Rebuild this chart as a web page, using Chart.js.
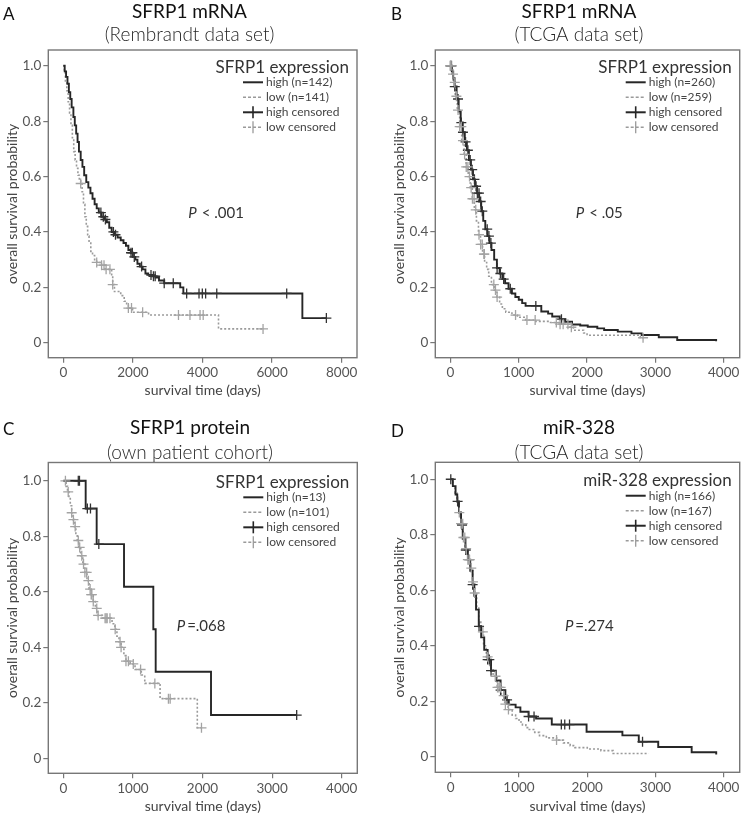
<!DOCTYPE html>
<html>
<head>
<meta charset="utf-8">
<script src="https://cdn.jsdelivr.net/npm/chart.js@4.4.1/dist/chart.umd.min.js"></script>
<style>
    html, body { margin: 0; padding: 0; background: #ffffff; }
    #wrap { position: relative; width: 746px; height: 815px; overflow: hidden; }
    .panel { position: absolute; }
</style>
</head>
<body>
<div id="wrap">
    <div class="panel" style="left:0;top:0"><canvas id="cA" width="373" height="408"></canvas></div>
    <div class="panel" style="left:373px;top:0"><canvas id="cB" width="373" height="408"></canvas></div>
    <div class="panel" style="left:0;top:408px"><canvas id="cC" width="373" height="407"></canvas></div>
    <div class="panel" style="left:373px;top:408px"><canvas id="cD" width="373" height="407"></canvas></div>
</div>
<script>
/*
 *  Kaplan-Meier panels A-D
 *  steps are [time (days), survival after that time]
 */

var Y_TICKS   = [0, 0.2, 0.4, 0.6, 0.8, 1.0];
var X_TICKS_A = [0, 2000, 4000, 6000, 8000];
var X_TICKS   = [0, 1000, 2000, 3000, 4000];

/* ---- A: SFRP1 mRNA, Rembrandt ---- */
var A_HIGH = [[0,1.0],[40,0.98],[80,0.96],[120,0.935],[160,0.905],[200,0.88],[240,0.85],[290,0.815],[330,0.785],[370,0.755],
    [410,0.725],[450,0.69],[500,0.66],[550,0.635],[600,0.605],[660,0.58],[720,0.56],[780,0.54],[840,0.52],[900,0.50],
    [960,0.485],[1020,0.47],[1100,0.455],[1180,0.445],[1250,0.435],[1320,0.415],[1390,0.40],[1480,0.39],[1560,0.38],
    [1650,0.37],[1730,0.36],[1800,0.35],[1870,0.335],[1940,0.325],[2000,0.31],[2070,0.30],[2130,0.285],[2200,0.275],
    [2280,0.265],[2360,0.25],[2440,0.245],[2550,0.24],[2650,0.235],[2750,0.225],[2900,0.215],[3360,0.20],[3450,0.178],
    [6870,0.089],[7560,0.089]];
var A_HIGH_CENS = [1080,1150,1210,1440,1500,1945,1985,2040,2250,2520,2590,2640,2900,3160,3545,3900,3995,4090,4410,6420,7560];
var A_LOW = [[0,1.0],[30,0.975],[60,0.945],[100,0.91],[140,0.87],[180,0.83],[220,0.785],[260,0.74],[300,0.69],[340,0.66],
    [380,0.63],[420,0.605],[460,0.585],[500,0.575],[540,0.545],[580,0.50],[620,0.455],[660,0.42],[700,0.385],[740,0.36],
    [790,0.33],[840,0.315],[900,0.30],[960,0.29],[1100,0.28],[1200,0.265],[1390,0.24],[1420,0.21],[1470,0.185],[1650,0.17],
    [1750,0.15],[1820,0.135],[1870,0.125],[1990,0.11],[2450,0.10],[4460,0.05],[5740,0.05]];
var A_LOW_CENS = [500,960,1100,1170,1230,1340,1420,1870,1960,2280,3310,3640,3930,4020,5740];

/* ---- B: SFRP1 mRNA, TCGA ---- */
var B_HIGH = [[0,1.0],[20,0.98],[40,0.955],[60,0.925],[90,0.88],[120,0.835],[150,0.795],[180,0.76],[210,0.725],[240,0.695],
    [270,0.66],[300,0.625],[330,0.59],[360,0.565],[390,0.54],[420,0.51],[450,0.475],[480,0.44],[510,0.41],[540,0.385],
    [570,0.36],[600,0.335],[640,0.30],[680,0.27],[720,0.25],[760,0.23],[800,0.215],[850,0.195],[900,0.178],[950,0.165],
    [1000,0.155],[1050,0.143],[1100,0.133],[1330,0.113],[1430,0.105],[1490,0.095],[1600,0.085],[1680,0.076],[1780,0.066],
    [1900,0.062],[2010,0.058],[2150,0.052],[2250,0.046],[2450,0.04],[2650,0.034],[2800,0.028],[3050,0.02],[3320,0.01],
    [3890,0.005]];
var B_HIGH_CENS = [0,15,63,111,159,183,221,255,289,318,351,375,394,418,442,466,538,563,592,683,731,779,876,1250,1625];
var B_LOW = [[0,1.0],[20,0.97],[40,0.94],[70,0.89],[100,0.84],[135,0.78],[165,0.73],[200,0.68],[230,0.635],[260,0.60],
    [290,0.56],[320,0.52],[350,0.48],[380,0.44],[410,0.39],[440,0.355],[470,0.32],[500,0.29],[530,0.265],[560,0.24],
    [600,0.21],[640,0.19],[680,0.165],[720,0.14],[760,0.123],[810,0.11],[900,0.10],[980,0.092],[1100,0.082],[1250,0.077],
    [1450,0.073],[1600,0.067],[1750,0.056],[1800,0.045],[1950,0.035],[2000,0.027],[2780,0.018],[2820,0.018]];
var B_LOW_CENS = [0,10,38,63,87,111,135,159,183,207,231,255,279,303,322,346,370,418,442,466,490,496,635,659,683,953,
    1120,1240,1550,1605,1650,1720,1770,2820];

/* ---- C: SFRP1 protein, own cohort ---- */
var C_HIGH = [[0,1.0],[321,0.90],[479,0.772],[872,0.618],[1293,0.465],[1327,0.312],[2122,0.156],[3353,0.156]];
var C_HIGH_CENS = [215,232,345,390,510,3353];
var C_LOW = [[0,1.0],[40,0.98],[60,0.96],[80,0.94],[100,0.91],[120,0.885],[140,0.86],[160,0.835],[180,0.81],[200,0.785],
    [220,0.76],[250,0.73],[280,0.70],[310,0.67],[340,0.64],[370,0.61],[400,0.59],[430,0.565],[460,0.54],[490,0.515],
    [560,0.505],[700,0.485],[740,0.465],[770,0.44],[800,0.42],[830,0.40],[870,0.37],[900,0.35],[960,0.34],[1030,0.32],
    [1120,0.30],[1170,0.27],[1390,0.215],[1925,0.11],[1985,0.11]];
var C_LOW_CENS = [30,70,120,145,170,215,235,265,290,310,335,360,385,400,410,430,480,500,600,615,630,670,745,815,830,
    900,935,1005,1110,1315,1510,1535,1985];

/* ---- D: miR-328, TCGA ---- */
var D_HIGH = [[0,1.0],[30,0.975],[70,0.945],[95,0.92],[120,0.88],[150,0.835],[175,0.785],[215,0.745],[250,0.71],[285,0.67],
    [320,0.62],[345,0.58],[370,0.53],[410,0.47],[445,0.43],[490,0.385],[540,0.35],[590,0.31],[660,0.275],[730,0.24],
    [800,0.205],[850,0.188],[950,0.178],[1020,0.162],[1140,0.145],[1250,0.138],[1480,0.116],[1990,0.09],[2515,0.077],
    [2755,0.054],[3040,0.035],[3530,0.016],[3890,0.008]];
var D_HIGH_CENS = [0,100,165,220,270,320,414,540,565,590,730,825,1140,1220,1620,1670,1740,2810];
var D_LOW = [[0,1.0],[30,0.975],[60,0.95],[90,0.92],[120,0.88],[150,0.84],[180,0.79],[210,0.75],[250,0.71],[280,0.68],
    [320,0.63],[350,0.59],[380,0.54],[410,0.49],[440,0.45],[480,0.40],[520,0.36],[570,0.32],[620,0.29],[680,0.25],
    [740,0.22],[790,0.19],[840,0.17],[900,0.15],[950,0.138],[1000,0.125],[1050,0.115],[1100,0.105],[1150,0.098],
    [1230,0.088],[1300,0.076],[1400,0.068],[1550,0.06],[1650,0.05],[1750,0.04],[1820,0.033],[2000,0.028],[2200,0.022],
    [2380,0.012],[2900,0.012]];
var D_LOW_CENS = [125,150,175,185,205,225,250,275,300,325,350,470,540,655,685,705,730,775,800,845,1550];

var COLORS = {
    high:      '#262626',
    low:       '#9a9a9a',
    highCross: '#333333',
    lowCross:  '#a3a3a3',
    frame:     '#777777',
    tick:      '#555555',
    text:      '#444444'
};
var FONT = "Lato, 'Open Sans', sans-serif";

/* layout per panel, canvas-local pixels */
var PANELS = [
    { id: 'cA', letter: 'A', title: ['SFRP1 mRNA', '(Rembrandt data set)'], legendTitle: 'SFRP1 expression',
      names: ['high (n=142)', 'low (n=141)'], high: A_HIGH, low: A_LOW, highCens: A_HIGH_CENS, lowCens: A_LOW_CENS,
      pText: '< .001', pAt: [3590, 0.451], xTicks: X_TICKS_A, xMin: -431, xMax: 8440, yMin: -0.054, yMax: 1.057,
      pad: { left: 0, top: 50, right: 16, bottom: 9.6 }, xH: 40.7, yW: 48.3,
      titleX: 189.5, titleY: [18.3, 40.7], letterX: 3, letterY: 20 },
    { id: 'cB', letter: 'B', title: ['SFRP1 mRNA', '(TCGA data set)'], legendTitle: 'SFRP1 expression',
      names: ['high (n=260)', 'low (n=259)'], high: B_HIGH, low: B_LOW, highCens: B_HIGH_CENS, lowCens: B_LOW_CENS,
      pText: '< .05', pAt: [1834, 0.451], xTicks: X_TICKS, xMin: -222, xMax: 4235, yMin: -0.054, yMax: 1.057,
      pad: { left: 14, top: 50, right: 2, bottom: 9.6 }, xH: 40.7, yW: 48.3,
      titleX: 206, titleY: [18.3, 41], letterX: 18, letterY: 20 },
    { id: 'cC', letter: 'C', title: ['SFRP1 protein', '(own patient cohort)'], legendTitle: 'SFRP1 expression',
      names: ['high (n=13)', 'low (n=101)'], high: C_HIGH, low: C_LOW, highCens: C_HIGH_CENS, lowCens: C_LOW_CENS,
      pText: '=.068', pAt: [1629, 0.459], xTicks: X_TICKS, xMin: -216, xMax: 4224, yMin: -0.054, yMax: 1.066,
      pad: { left: 0, top: 54.5, right: 15.7, bottom: 0 }, xH: 41.7, yW: 48.3,
      titleX: 190, titleY: [26, 51.3], letterX: 3, letterY: 27 },
    { id: 'cD', letter: 'D', title: ['miR-328', '(TCGA data set)'], legendTitle: 'miR-328 expression',
      names: ['high (n=166)', 'low (n=167)'], high: D_HIGH, low: D_LOW, highCens: D_HIGH_CENS, lowCens: D_LOW_CENS,
      pText: '=.274', pAt: [1672, 0.453], xTicks: X_TICKS, xMin: -227, xMax: 4234, yMin: -0.056, yMax: 1.061,
      pad: { left: 14, top: 54.3, right: 2, bottom: 0 }, xH: 42.7, yW: 48.3,
      titleX: 206, titleY: [26, 51], letterX: 18, letterY: 28.7 }
];

/* survival of a step curve at time t (value of the last step at or before t) */
function survAt(steps, t) {
    var s = steps[0][1];
    for (var i = 0; i < steps.length; i++) {
        if (steps[i][0] <= t) { s = steps[i][1]; } else { break; }
    }
    return s;
}

function stepPoints(steps) {
    return steps.map(function (d) { return { x: d[0], y: d[1] }; });
}

function censorPoints(times, steps) {
    return times.map(function (t) { return { x: t, y: survAt(steps, t) }; });
}

var decorPlugin = {
    id: 'decor',
    afterDraw: function (chart) {
        var p = chart.config.options.plugins.decor.panel;
        var ctx = chart.ctx;
        var a = chart.chartArea;
        var xs = chart.scales.x, ys = chart.scales.y;

        ctx.save();

        /* frame */
        ctx.strokeStyle = COLORS.frame;
        ctx.lineWidth = 1.4;
        ctx.strokeRect(a.left, a.top, a.right - a.left, a.bottom - a.top);

        /* panel letter + two-line title */
        ctx.textBaseline = 'alphabetic';
        ctx.fillStyle = '#111111';
        ctx.textAlign = 'left';
        ctx.font = '17px ' + FONT;
        ctx.fillText(p.letter, p.letterX, p.letterY);
        ctx.textAlign = 'center';
        ctx.font = '19px ' + FONT;
        ctx.fillText(p.title[0], p.titleX, p.titleY[0]);
        ctx.fillStyle = '#262626';
        ctx.font = '300 19px ' + FONT;
        ctx.fillText(p.title[1], p.titleX, p.titleY[1]);

        /* legend, top right inside the plot */
        var y1 = ys.getPixelForValue(1);
        ctx.fillStyle = '#333333';
        ctx.textAlign = 'right';
        ctx.font = '17px ' + FONT;
        ctx.fillText(p.legendTitle, a.right - 8, y1 + 7);

        var items = [
            { label: p.names[0],      color: COLORS.high, w: 2,   dash: [],     cross: false },
            { label: p.names[1],      color: COLORS.low,  w: 1.5, dash: [3, 2], cross: false },
            { label: 'high censored', color: COLORS.high, w: 2,   dash: [],     cross: true },
            { label: 'low censored',  color: COLORS.low,  w: 1.5, dash: [3, 2], cross: true }
        ];
        var tx = a.right - 91;
        items.forEach(function (it, i) {
            var by = y1 + 20.5 + 15 * i;
            var cy = by - 4;
            ctx.strokeStyle = it.color;
            ctx.lineWidth = it.w;
            ctx.setLineDash(it.dash);
            ctx.beginPath();
            ctx.moveTo(tx - 23, cy);
            ctx.lineTo(tx - 3, cy);
            ctx.stroke();
            if (it.cross) {
                ctx.setLineDash([]);
                ctx.lineWidth = it.w === 2 ? 1.6 : 1.3;
                ctx.beginPath();
                ctx.moveTo(tx - 13, cy - 6);
                ctx.lineTo(tx - 13, cy + 6);
                ctx.stroke();
            }
            ctx.setLineDash([]);
            ctx.fillStyle = COLORS.text;
            ctx.textAlign = 'left';
            ctx.font = '12px ' + FONT;
            ctx.fillText(it.label, tx, by);
        });

        /* P value */
        var px = xs.getPixelForValue(p.pAt[0]);
        var py = ys.getPixelForValue(p.pAt[1]);
        ctx.fillStyle = '#333333';
        ctx.textAlign = 'left';
        ctx.font = 'italic 15px ' + FONT;
        ctx.fillText('P', px, py);
        var pw = ctx.measureText('P').width;
        ctx.font = '15px ' + FONT;
        ctx.fillText(p.pText, px + pw + (p.pText.charAt(0) === '<' ? 5 : 2), py);

        ctx.restore();
    }
};

function axisOpts(p, isX) {
    return {
        type: 'linear',
        min: isX ? p.xMin : p.yMin,
        max: isX ? p.xMax : p.yMax,
        afterBuildTicks: function (s) {
            s.ticks = (isX ? p.xTicks : Y_TICKS).map(function (v) { return { value: v }; });
        },
        afterFit: function (s) {
            if (isX) { s.height = p.xH; } else { s.width = p.yW; }
        },
        grid: { display: true, drawOnChartArea: false, drawTicks: true, tickLength: 5,
                color: COLORS.frame, lineWidth: 1.2 },
        border: { display: false },
        ticks: {
            padding: 2,
            color: COLORS.tick,
            autoSkip: false,
            maxRotation: 0,
            font: { family: FONT, size: 13.5 },
            callback: function (v) {
                if (isX) { return String(v); }
                return v === 0 ? '0' : v.toFixed(1);
            }
        },
        title: {
            display: true,
            text: isX ? 'survival time (days)' : 'overall survival probability',
            color: COLORS.text,
            font: { family: FONT, size: 14 },
            padding: isX ? { top: 4, bottom: 0 } : { top: 4, bottom: 4 }
        }
    };
}

function renderPanel(p) {
    var ctx = document.getElementById(p.id).getContext('2d');
    new Chart(ctx, {
        type: 'line',
        data: {
            datasets: [
                {   /* low censored, drawn on top */
                    data: censorPoints(p.lowCens, p.low),
                    showLine: false, pointStyle: 'cross', pointRadius: 5,
                    pointBorderColor: COLORS.lowCross, pointBackgroundColor: COLORS.lowCross, pointBorderWidth: 1.3
                },
                {   /* high censored */
                    data: censorPoints(p.highCens, p.high),
                    showLine: false, pointStyle: 'cross', pointRadius: 5,
                    pointBorderColor: COLORS.highCross, pointBackgroundColor: COLORS.highCross, pointBorderWidth: 1.3
                },
                {   /* high curve */
                    data: stepPoints(p.high),
                    stepped: true, borderColor: COLORS.high, borderWidth: 1.9,
                    pointRadius: 0, fill: false
                },
                {   /* low curve */
                    data: stepPoints(p.low),
                    stepped: true, borderColor: COLORS.low, borderWidth: 1.6, borderDash: [2, 2],
                    pointRadius: 0, fill: false
                }
            ]
        },
        options: {
            responsive: false,
            animation: false,
            events: [],
            layout: { padding: p.pad },
            plugins: {
                legend: { display: false },
                tooltip: { enabled: false },
                decor: { panel: p }
            },
            scales: {
                x: axisOpts(p, true),
                y: axisOpts(p, false)
            }
        },
        plugins: [decorPlugin]
    });
}

PANELS.forEach(renderPanel);
</script>
</body>
</html>
